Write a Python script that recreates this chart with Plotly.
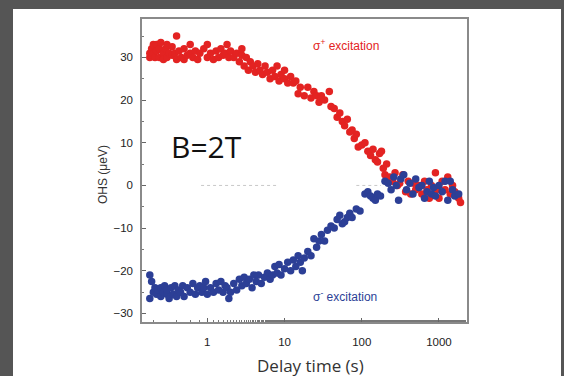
import plotly.graph_objects as go
import math

# sigma+ excitation (red)
red_x = [0.18, 0.18, 0.19, 0.19, 0.2, 0.2, 0.21, 0.22, 0.22, 0.24, 0.24, 0.25, 0.27, 0.27, 0.29,
         0.3, 0.3, 0.32, 0.35, 0.35, 0.38, 0.4, 0.4, 0.43, 0.46, 0.5, 0.5, 0.55, 0.6, 0.6,
         0.65, 0.7, 0.75, 0.8, 0.9, 1.0, 1.0, 1.1, 1.2, 1.3, 1.4, 1.5, 1.6, 1.7, 1.8,
         1.9, 2.0, 2.2, 2.4, 2.6, 2.8, 2.8, 3.0, 3.2, 3.4, 3.6, 3.9, 4.2, 4.5, 4.8,
         5.2, 5.6, 6.0, 6.5, 7.0, 7.5, 8.0, 8.5, 9.0, 10, 10, 11, 12, 13, 14,
         15, 16, 18, 20, 22, 24, 26, 28, 30, 33, 38, 40, 44, 48, 52,
         56, 60, 65, 70, 75, 80, 85, 90, 100, 110, 120, 130, 140, 150, 160,
         170, 180, 190, 200, 210, 230, 250, 270, 290, 310, 340, 370, 400, 430, 470,
         500, 550, 600, 650, 700, 750, 800, 850, 900, 950, 1000, 1100, 1200, 1300, 1400,
         1500, 1600, 1800, 1900]
red_y = [30, 31, 32, 30.5, 33, 31, 30, 33, 31.5, 32, 30, 33.5, 31, 29.5, 32,
         30, 33, 31, 30.5, 32.5, 31, 35, 29.5, 31.5, 30, 32, 29.5, 30.5, 31, 33,
         30, 31.5, 29.5, 31, 32, 30, 33, 31, 29.5, 31.5, 30, 32, 30.5, 31, 33,
         30, 31.5, 30, 31, 29, 30.5, 32, 28, 30, 27, 29, 28, 26.5, 28.5, 27,
         26, 28, 26.5, 25, 27, 25.5, 28, 24.5, 26, 25, 27, 24, 25.5, 24, 24.5,
         21.5, 23, 21, 23, 20.5, 22, 21, 19.5, 21, 20, 22, 18.5, 18, 16, 17,
         15, 14, 15.5, 12.5, 13, 11, 12, 9, 9.5, 10, 8, 7, 8.5, 6, 5.5,
         7.5, 8, 4, 2.5, 5, 2, 1, 3, 0, 0.5, 2.5, -1.5, 1, -2, 0.5,
         -1, 0, -2, 1, -1, -3, 0, -2, 3, -1, -3, 1, -1, 2, -2,
         0, -1.5, -3, -4]

# sigma- excitation (blue)
blue_x = [0.18, 0.18, 0.19, 0.2, 0.21, 0.22, 0.23, 0.25, 0.25, 0.27, 0.28, 0.3, 0.3, 0.32, 0.34,
          0.36, 0.38, 0.4, 0.42, 0.45, 0.48, 0.5, 0.55, 0.6, 0.65, 0.7, 0.75, 0.8, 0.85, 0.9,
          0.95, 1.0, 1.1, 1.2, 1.3, 1.4, 1.5, 1.6, 1.7, 1.8, 1.9, 2.0, 2.2, 2.4, 2.6,
          2.8, 3.0, 3.2, 3.5, 3.8, 4.0, 4.3, 4.6, 5.0, 5.5, 6.0, 6.5, 7.0, 7.5, 8.0,
          8.5, 9.0, 10, 11, 12, 13, 14, 15, 16, 17, 18, 20, 22, 24, 26,
          28, 30, 33, 36, 40, 44, 48, 52, 56, 60, 65, 70, 75, 85, 95,
          110, 120, 130, 140, 150, 160, 175, 200, 220, 240, 260, 280, 300, 320, 350,
          380, 420, 460, 500, 550, 600, 650, 700, 750, 800, 850, 900, 1000, 1100, 1200,
          1300, 1400, 1500, 1600, 1800]
blue_y = [-21, -26.5, -22.5, -25, -24, -25.5, -24.5, -26, -24, -25, -23.5, -25.5, -24.5, -26.5, -24,
          -25.5, -23.5, -26, -24.5, -25, -23.5, -26, -24, -25, -23, -25.5, -24, -23.5, -25, -24,
          -22.5, -25.5, -24, -25, -23, -24.5, -22.5, -25, -23.5, -24, -26.5, -25, -23, -24.5, -22,
          -23.5, -21.5, -23, -22, -24, -21, -22.5, -21, -23, -21.5, -20.5, -22, -21, -19, -20.5,
          -18.5, -21, -19.5, -18, -20, -17.5, -19, -16.5, -18, -20, -17, -15.5, -16.5, -12.5, -14.5,
          -13, -11.5, -13, -10.5, -9.5, -10, -8, -7, -9, -8.5, -7.5, -6.5, -7.5, -5.5, -6,
          -2, -1.5, -2.5, -3, -3.5, -2, -2.5, 1, 0.5, -1, 2, 0, -3.5, 1.5, 2.5,
          -1, 0.5, -2, 1.5, -0.5, 0, -3, -1.5, 1, -2, -0.5, -2.5, 0, -1.5, 1,
          -3.5, 1, -1, -2.5, -2]

# faint dotted zero-level segments
zero_x = [0.83, 8.0, None, 85, 178]
zero_y = [0, 0, None, 0, 0]

y_ticks = [-30, -20, -10, 0, 10, 20, 30]
x_ticks = [1, 10, 100, 1000]
x_tick_labels = ["1", "10", "100", "1000"]

RED = "#e32322"
BLUE = "#2c3f96"

fig = go.Figure()
fig.add_trace(go.Scatter(x=zero_x, y=zero_y, mode="lines",
                         line=dict(color="#c8c8c8", width=1, dash="dot"),
                         hoverinfo="skip", showlegend=False))
fig.add_trace(go.Scatter(x=red_x, y=red_y, mode="markers",
                         marker=dict(color=RED, size=7.5, line=dict(width=0)),
                         showlegend=False))
fig.add_trace(go.Scatter(x=blue_x, y=blue_y, mode="markers",
                         marker=dict(color=BLUE, size=7.5, line=dict(width=0)),
                         showlegend=False))

# plot area in pixels: x 142..467, y 19..322
L, R, T, B = 142, 97, 19, 54
W, H = 564 - L - R, 376 - T - B

def px(xp):
    return (xp - L) / W

def py(yp):
    return (376 - B - yp) / H

fig.add_shape(type="rect", xref="paper", yref="paper",
              x0=px(13), x1=px(561), y0=py(420), y1=py(9),
              fillcolor="white", line=dict(width=0), layer="below")

tickfont = dict(family="Arial", size=11.5, color="#222222")

fig.update_xaxes(type="log", range=[math.log10(0.1426), math.log10(2307)],
                 tickvals=x_ticks, ticktext=x_tick_labels,
                 ticks="inside", ticklen=4, tickcolor="#666666", tickwidth=1,
                 minor=dict(ticks="inside", ticklen=2, tickcolor="#777777", showgrid=False),
                 showgrid=False, zeroline=False,
                 showline=True, linecolor="#8a8a8a", linewidth=1.5, mirror=True,
                 tickfont=tickfont, ticklabelstandoff=8)
fig.update_yaxes(range=[-32, 39], tickvals=y_ticks,
                 ticks="inside", ticklen=4, tickcolor="#666666", tickwidth=1,
                 minor=dict(dtick=5, ticks="inside", ticklen=2, tickcolor="#777777", showgrid=False),
                 showgrid=False, zeroline=False,
                 showline=True, linecolor="#8a8a8a", linewidth=1.5, mirror=True,
                 tickfont=tickfont, ticklabelstandoff=5)

def note(xp, yp, text, font, angle=0):
    fig.add_annotation(xref="paper", yref="paper", x=px(xp), y=py(yp),
                       xanchor="center", yanchor="middle",
                       text=text, showarrow=False, textangle=angle, font=font)

note(206, 146, "B=2T", dict(family="Open Sans", size=30, color="#111111"))
note(346, 45, "σ<sup>+</sup> excitation", dict(family="Arial", size=12, color=RED))
note(345, 296, "σ<sup>-</sup> excitation", dict(family="Arial", size=12, color=BLUE))
note(310, 365, "Delay time (s)", dict(family="Open Sans", size=17, color="#333333"))
note(103, 175, "OHS (μeV)", dict(family="Arial", size=12, color="#333333"), angle=-90)

fig.update_layout(width=564, height=376,
                  margin=dict(l=L, r=R, t=T, b=B),
                  paper_bgcolor="#555555", plot_bgcolor="white")

fig.write_html("out.html",
               config={"displayModeBar": False},
               post_script="document.body.style.margin='0';"
                           "document.body.style.background='#555555';"
                           "document.body.style.overflow='hidden';")
